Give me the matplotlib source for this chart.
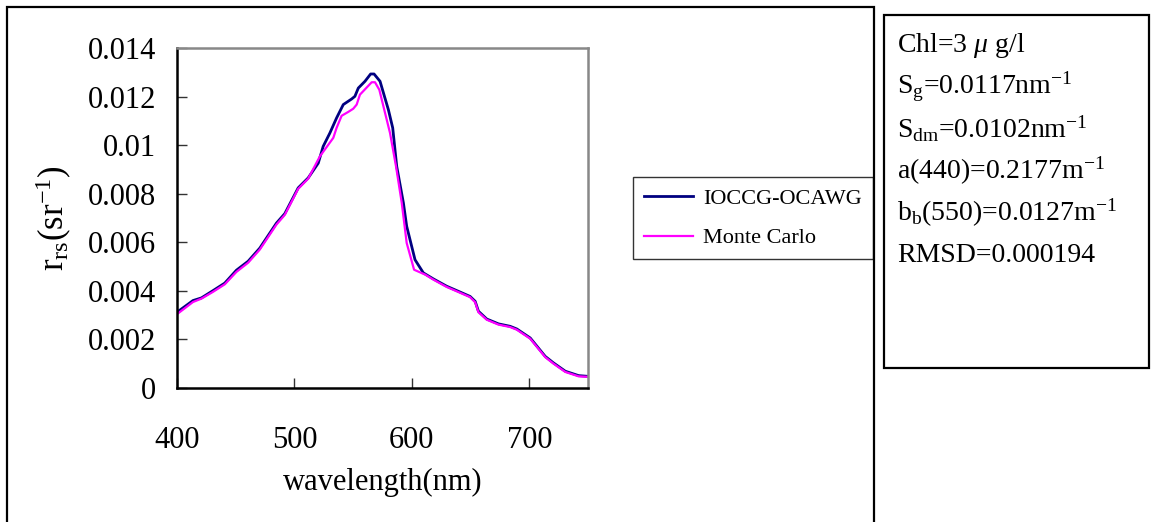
import matplotlib
matplotlib.use('Agg')
import matplotlib.pyplot as plt
from matplotlib.patches import Rectangle

plt.rcParams['mathtext.fontset'] = 'custom'
plt.rcParams['mathtext.rm'] = 'Liberation Serif'
plt.rcParams['mathtext.it'] = 'Liberation Serif:italic'

# data ------------------------------------------------------------------------

wl_ioccg = [400, 413.6, 420.8, 430.7, 440.7, 450.6, 460.6, 470.5, 484.7, 491.8,
            503.2, 511.7, 520.3, 524.5, 530.2, 535.9, 541.6, 548.7, 551.5, 554.4,
            560.1, 564.9, 567.8, 572.9, 580.0, 583.7, 587.1, 592.8, 595.6, 602.7,
            609.8, 618.4, 629.7, 639.7, 649.6, 653.9, 656.7, 663.8, 673.8, 683.7,
            689.4, 700.8, 713.6, 720.7, 730.7, 742.0, 750]
rrs_ioccg = [0.00312, 0.0036, 0.00371, 0.00401, 0.00432, 0.00485, 0.00522, 0.00576, 0.00679, 0.00718,
             0.00824, 0.00865, 0.00926, 0.00995, 0.0105, 0.01112, 0.01167, 0.0119, 0.01201, 0.01235,
             0.01263, 0.01293, 0.01293, 0.01263, 0.01146, 0.01071, 0.00913, 0.00762, 0.00666, 0.00528,
             0.00474, 0.00449, 0.00419, 0.00398, 0.00377, 0.00357, 0.00316, 0.00284, 0.00264, 0.00254,
             0.00243, 0.00206, 0.0013, 0.00103, 0.00069, 0.00051, 0.00048]

wl_mc = [400, 413.6, 420.8, 430.7, 440.7, 450.6, 460.6, 470.5, 484.7, 491.8,
         503.2, 511.7, 521.7, 533.1, 535.9, 540.2, 545.9, 550.1, 553.0, 555.8,
         565.8, 568.6, 572.3, 581.4, 586.5, 591.4, 595.6, 601.9, 611.3, 618.4,
         629.7, 639.7, 649.6, 653.9, 656.7, 663.8, 673.8, 683.7, 689.4, 700.8,
         713.6, 720.7, 730.7, 742.0, 750]
rrs_mc = [0.00304, 0.00354, 0.00368, 0.00396, 0.00427, 0.00478, 0.00516, 0.0057, 0.00673, 0.00713,
          0.0082, 0.00862, 0.00954, 0.0103, 0.01071, 0.01121, 0.01137, 0.0115, 0.01167, 0.01208,
          0.01259, 0.01259, 0.01228, 0.0105, 0.00913, 0.00762, 0.00597, 0.00487, 0.00467, 0.00446,
          0.00416, 0.00395, 0.00374, 0.00353, 0.00312, 0.00281, 0.00261, 0.00251, 0.0024, 0.00203,
          0.00127, 0.001, 0.00066, 0.00048, 0.00046]

xticks = [400, 500, 600, 700]
yticks = [0, 0.002, 0.004, 0.006, 0.008, 0.01, 0.012, 0.014]
ytick_labels = ['0', '0.002', '0.004', '0.006', '0.008', '0.01', '0.012', '0.014']

info_lines = [r'Chl=3 $\mu$ g/l',
              r'S$_\mathrm{g}$=0.0117nm$^\mathrm{-1}$',
              r'S$_\mathrm{dm}$=0.0102nm$^\mathrm{-1}$',
              r'a(440)=0.2177m$^\mathrm{-1}$',
              r'b$_\mathrm{b}$(550)=0.0127m$^\mathrm{-1}$',
              'RMSD=0.000194']

# figure ------------------------------------------------------------------------

W, H = 1153, 522
fig = plt.figure(figsize=(W / 100, H / 100), dpi=100)

def fx(px):
    return px / W

def fy(py):
    return 1 - py / H

# outer frame around the chart
fig.patches.append(Rectangle((fx(7), fy(530)), fx(874) - fx(7), fy(7) - fy(530),
                             transform=fig.transFigure, fill=False,
                             edgecolor='black', linewidth=1.6))
# info box
fig.patches.append(Rectangle((fx(884), fy(368)), fx(1149) - fx(884), fy(15) - fy(368),
                             transform=fig.transFigure, fill=False,
                             edgecolor='black', linewidth=1.6))

ax = fig.add_axes([fx(177), fy(388), fx(588) - fx(177), fy(48) - fy(388)])

ax.plot(wl_ioccg, rrs_ioccg, color='#000080', linewidth=2.0, label='IOCCG-OCAWG')
ax.plot(wl_mc, rrs_mc, color='#FF00FF', linewidth=1.6, label='Monte Carlo')

ax.set_xlim(400, 750)
ax.set_ylim(0, 0.014)
ax.set_xticks(xticks)
ax.set_yticks(yticks)
ax.set_yticklabels(ytick_labels)

font = 'Liberation Serif'
for lab in ax.get_xticklabels() + ax.get_yticklabels():
    lab.set_family(font)
    lab.set_fontsize(22)

ax.tick_params(axis='both', direction='in', length=7, width=1, color='#333333')
ax.tick_params(axis='y', pad=15)
ax.tick_params(axis='x', pad=27)

for side in ['left', 'bottom']:
    ax.spines[side].set_color('black')
    ax.spines[side].set_linewidth(1.8)
for side in ['top', 'right']:
    ax.spines[side].set_color('#888888')
    ax.spines[side].set_linewidth(1.8)

ax.set_xlabel('wavelength(nm)', family=font, fontsize=22, labelpad=10)
ax.set_ylabel(r'r$_\mathrm{rs}$(sr$^\mathrm{-1}$)', family=font, fontsize=25, labelpad=10)

leg = ax.legend(loc='upper left', bbox_to_anchor=(1.109, 0.62), frameon=True,
                fancybox=False, prop={'family': font, 'size': 16},
                handlelength=2.2, handletextpad=0.45, borderpad=0.5,
                labelspacing=0.85, borderaxespad=0)
leg.get_frame().set_edgecolor('black')
leg.get_frame().set_linewidth(1.0)

y = 45
for line in info_lines:
    fig.text(fx(897), fy(y), line, family=font, fontsize=20, va='center', ha='left')
    y += 42

fig.savefig('out.png', dpi=100)
